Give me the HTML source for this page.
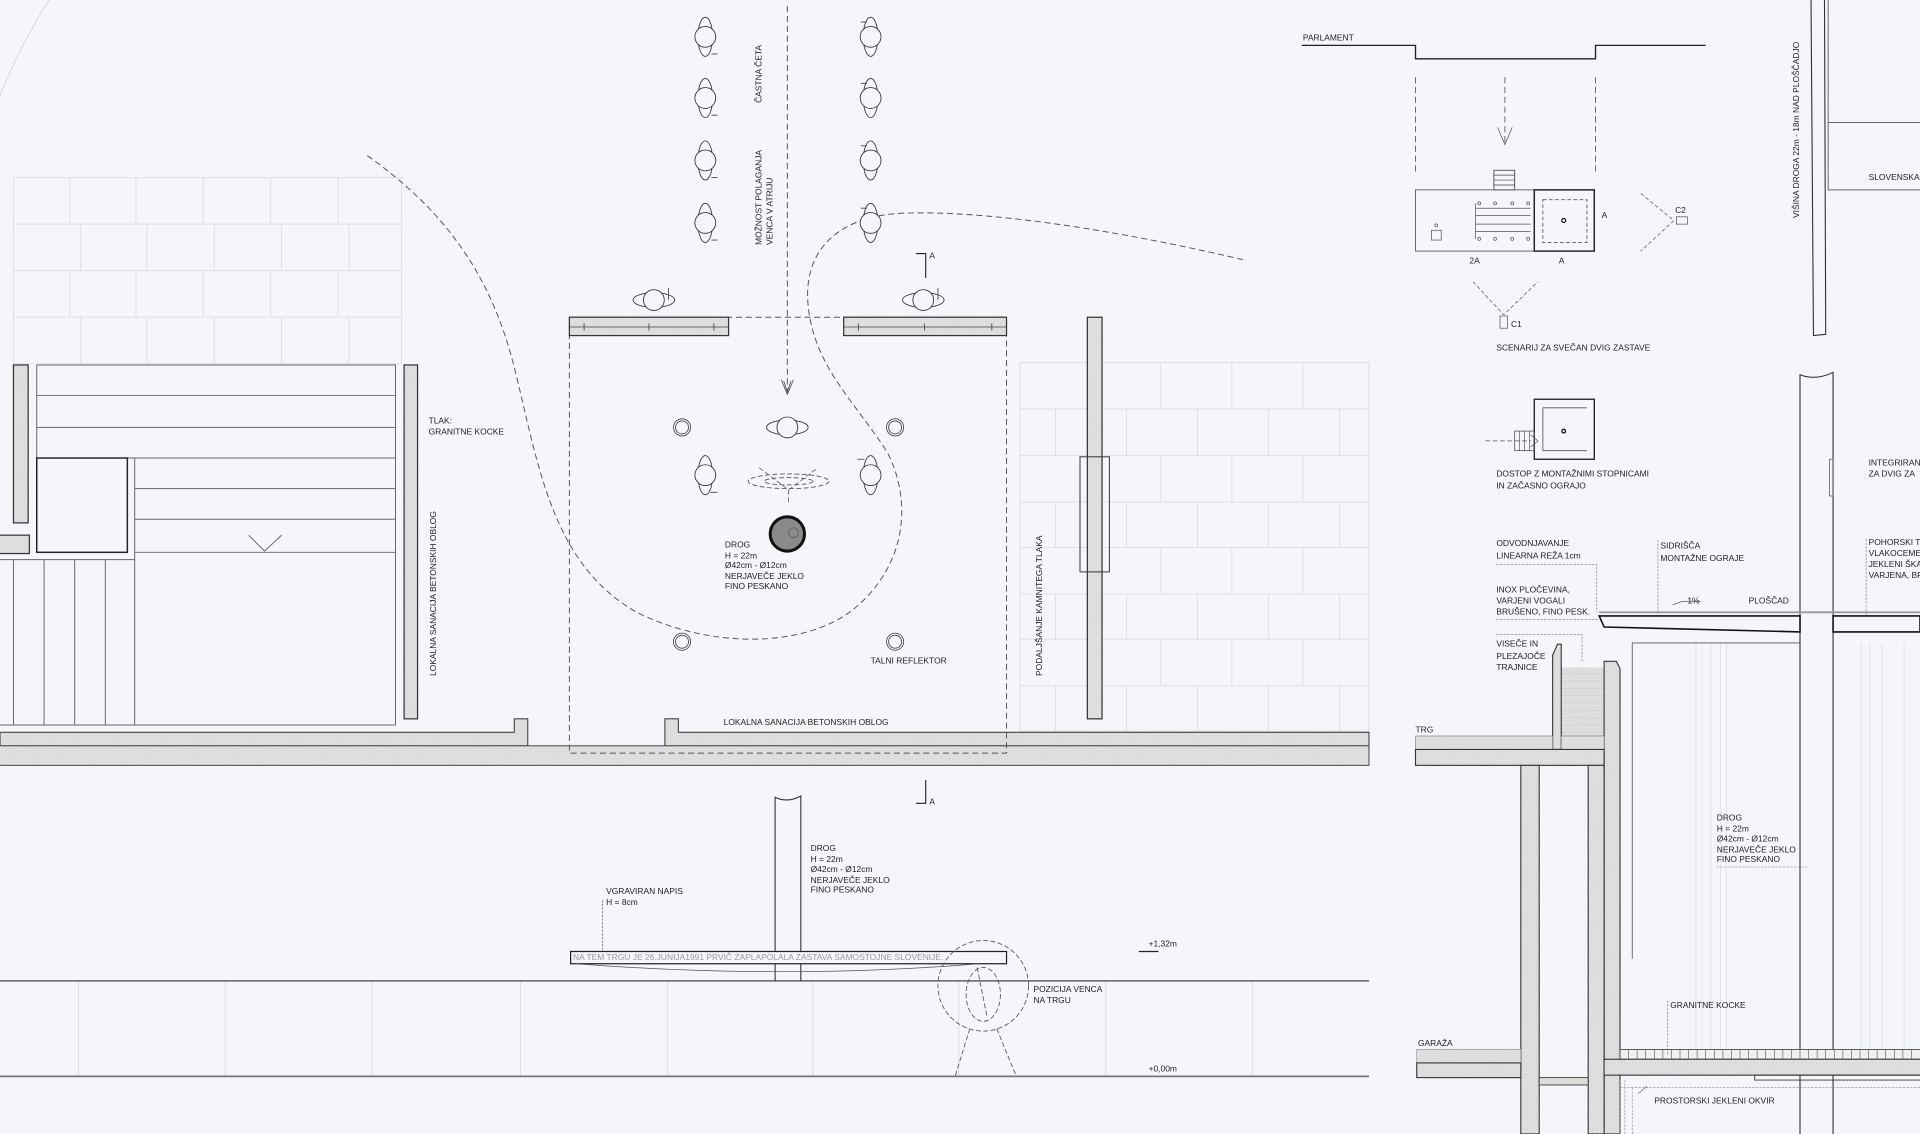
<!DOCTYPE html>
<html><head><meta charset="utf-8">
<style>
html,body{margin:0;padding:0;background:#f4f6fa;}
svg{display:block}
text{font-family:"Liberation Sans",sans-serif;font-size:6.9px;fill:#222}
</style></head>
<body>
<svg width="1920" height="1134" viewBox="0 0 1568 926" xmlns="http://www.w3.org/2000/svg">
<defs>
<pattern id="h" width="3" height="3" patternUnits="userSpaceOnUse"><rect width="3" height="3" fill="#e3e3e3"/><path d="M0 3L3 0" stroke="#cfcfcf" stroke-width="0.6"/></pattern>
<g id="sv"><ellipse cx="0" cy="0" rx="6" ry="16" fill="none" stroke="#333" stroke-width="0.7"/><circle cx="0" cy="0" r="8.5" fill="#f4f6fa" stroke="#333" stroke-width="0.7"/></g>
<g id="sh"><ellipse cx="0" cy="0" rx="17" ry="6" fill="none" stroke="#333" stroke-width="0.7"/><circle cx="0" cy="0" r="8.5" fill="#f4f6fa" stroke="#333" stroke-width="0.7"/></g>
<g id="rf"><circle r="7" fill="none" stroke="#444" stroke-width="0.7"/><circle r="5.3" fill="none" stroke="#444" stroke-width="0.7"/></g>
</defs>
<rect width="1568" height="926" fill="#f4f6fa"/>

<g stroke="#dcdfe4" stroke-width="0.8" fill="none">
<rect x="11" y="145" width="317" height="152"/>
<line x1="11" y1="183" x2="328" y2="183"/><line x1="11" y1="221" x2="328" y2="221"/><line x1="11" y1="259" x2="328" y2="259"/>
<path d="M57 145V183M111 145V183M166 145V183M221 145V183M276 145V183
M66 183V221M120 183V221M175 183V221M230 183V221M285 183V221
M57 221V259M111 221V259M166 221V259M221 221V259M276 221V259
M66 259V297M120 259V297M175 259V297M230 259V297M285 259V297"/>
</g>
<g stroke="#dcdfe4" stroke-width="0.8" fill="none">
<rect x="833" y="296" width="285" height="301"/>
<path d="M833 334H1118M833 372H1118M833 410H1118M833 447H1118M833 485H1118M833 522H1118M833 560H1118"/>
<path d="M890 296V334M948 296V334M1006 296V334M1064 296V334
M862 334V372M920 334V372M978 334V372M1036 334V372M1094 334V372
M890 372V410M948 372V410M1006 372V410M1064 372V410
M862 410V447M920 410V447M978 410V447M1036 410V447M1094 410V447
M890 447V485M948 447V485M1006 447V485M1064 447V485
M862 485V522M920 485V522M978 485V522M1036 485V522M1094 485V522
M890 522V560M948 522V560M1006 522V560M1064 522V560
M862 560V597M920 560V597M978 560V597M1036 560V597M1094 560V597"/>
</g>

<g stroke="#666" stroke-width="0.8" fill="none">
<path d="M30 298H323V592H0"/>
<path d="M30 298V374M30 323H323M30 349H323M30 374H323M110 399H323M110 424H323M110 451H323M0 457H110M110 374V592"/>
<path d="M11 457V592M36 457V592M61 457V592M86 457V592"/>
<path d="M203 437L216 450L230 437"/>
</g>
<rect x="11" y="298" width="12" height="129" fill="url(#h)" stroke="#333" stroke-width="1"/>
<rect x="-2" y="437" width="26" height="15" fill="url(#h)" stroke="#333" stroke-width="1"/>
<rect x="30" y="374" width="74" height="77" fill="none" stroke="#222" stroke-width="1.2"/>
<rect x="330" y="298" width="11" height="289" fill="url(#h)" stroke="#333" stroke-width="1"/>
<text x="350" y="346">TLAK:</text><text x="350" y="355">GRANITNE KOCKE</text>
<text transform="translate(356,552) rotate(-90)">LOKALNA SANACIJA BETONSKIH OBLOG</text>

<path d="M0 598H420V587H431V598H431V609H0Z" fill="url(#h)" stroke="#444" stroke-width="0.9"/>
<path d="M543 609V587H554V598H1118V609Z" fill="url(#h)" stroke="#444" stroke-width="0.9"/>
<rect x="-2" y="609" width="1120" height="16" fill="url(#h)" stroke="#555" stroke-width="0.9"/>

<rect x="465" y="259" width="357" height="356" fill="none" stroke="#555" stroke-width="0.8" stroke-dasharray="5,3"/>
<rect x="465" y="259" width="130" height="15" fill="url(#h)" stroke="#333" stroke-width="1"/>
<rect x="689" y="259" width="133" height="15" fill="url(#h)" stroke="#333" stroke-width="1"/>
<g stroke="#444" stroke-width="0.7"><path d="M465 267H595M689 267H822M477 264V270M530 264V270M583 264V270M701 264V270M755 264V270M810 264V270"/></g>
<rect x="888" y="259" width="12" height="328" fill="url(#h)" stroke="#333" stroke-width="1"/>
<rect x="882" y="373" width="24" height="94" fill="none" stroke="#333" stroke-width="0.8"/>
<text transform="translate(851,552) rotate(-90)">PODALJŠANJE KAMNITEGA TLAKA</text>

<line x1="643" y1="5" x2="643" y2="320" stroke="#555" stroke-width="0.8" stroke-dasharray="5,3"/>
<path d="M638 310L643 322L648 310M640 311L643 320L646 311" fill="none" stroke="#555" stroke-width="0.7"/>

<path d="M300 127C360 170 400 220 420 300C440 380 450 460 520 500C580 530 660 530 700 495C740 460 745 410 725 370C700 330 665 300 660 250C655 200 690 175 740 174C800 172 900 185 1015 212" fill="none" stroke="#555" stroke-width="0.8" stroke-dasharray="5,3"/>
<path d="M0 78 Q15 40 40 0" fill="none" stroke="#ccc" stroke-width="0.6"/>

<use href="#sv" x="576" y="30"/><use href="#sv" x="576" y="80"/><use href="#sv" x="576" y="131"/><use href="#sv" x="576" y="182"/>
<use href="#sv" x="711" y="30"/><use href="#sv" x="711" y="80"/><use href="#sv" x="711" y="131"/><use href="#sv" x="711" y="182"/>
<use href="#sh" x="534" y="245"/><use href="#sh" x="754" y="245"/>
<use href="#sh" x="643" y="349"/>
<use href="#sv" x="576" y="388"/><use href="#sv" x="711" y="388"/>
<g stroke="#444" stroke-width="0.7"><path d="M546 235V245M766 235V245M581 44H586M581 94H586M581 145H586M581 196H586M703 18H708M703 68H708M703 119H708M703 170H708M580 402H586M700 375H706"/></g>
<use href="#rf" x="557" y="349"/><use href="#rf" x="731" y="349"/><use href="#rf" x="557" y="524"/><use href="#rf" x="731" y="524"/>
<ellipse cx="644" cy="393" rx="33" ry="6" fill="none" stroke="#555" stroke-width="0.7" stroke-dasharray="4,2"/>
<ellipse cx="644" cy="393" rx="20" ry="3" fill="none" stroke="#555" stroke-width="0.7" stroke-dasharray="4,2"/>
<path d="M620 382L644 400L668 382M644 400V412" fill="none" stroke="#555" stroke-width="0.6" stroke-dasharray="4,2"/>
<circle cx="643" cy="436" r="14" fill="#8a8a8a" stroke="#111" stroke-width="2.5"/>
<circle cx="648" cy="435" r="4" fill="none" stroke="#555" stroke-width="0.6"/>
<text x="592" y="447">DROG</text><text x="592" y="456">H = 22m</text><text x="592" y="464">Ø42cm - Ø12cm</text><text x="592" y="473">NERJAVEČE JEKLO</text><text x="592" y="481">FINO PESKANO</text>
<text x="711" y="542">TALNI REFLEKTOR</text>
<text x="591" y="592">LOKALNA SANACIJA BETONSKIH OBLOG</text>
<text transform="translate(622,84) rotate(-90)">ČASTNA ČETA</text>
<text transform="translate(622,200) rotate(-90)">MOŽNOST POLAGANJA</text>
<text transform="translate(631,200) rotate(-90)">VENCA V ATRIJU</text>
<path d="M748 207H756V227M748 656H756V637" fill="none" stroke="#222" stroke-width="0.9"/>
<text x="759" y="211" font-size="6">A</text><text x="759" y="657" font-size="6">A</text>

<g stroke="#ddd" stroke-width="0.8"><path d="M64 801V879M184 801V879M304 801V879M425 801V879M545 801V879M664 801V879M783 801V879M903 801V879M1023 801V879"/></g>
<line x1="0" y1="801" x2="1118" y2="801" stroke="#777" stroke-width="1.4"/>
<line x1="0" y1="879" x2="1118" y2="879" stroke="#777" stroke-width="1.4"/>
<path d="M633 801V651Q643 656 654 650V801" fill="none" stroke="#333" stroke-width="0.9"/>
<rect x="466" y="777" width="356" height="10" fill="#f4f6fa" stroke="#222" stroke-width="1"/>
<path d="M470 787Q640 800 800 787" fill="none" stroke="#555" stroke-width="0.6"/>
<text x="468" y="784" font-size="6" style="fill:#999">NA TEM TRGU JE 26.JUNIJA1991 PRVIČ ZAPLAPOLALA ZASTAVA SAMOSTOJNE SLOVENIJE.</text>
<line x1="492" y1="735" x2="492" y2="777" stroke="#666" stroke-width="0.6" stroke-dasharray="2,1"/>
<text x="495" y="730">VGRAVIRAN NAPIS</text><text x="495" y="739">H = 8cm</text>
<text x="662" y="695">DROG</text><text x="662" y="704">H = 22m</text><text x="662" y="712">Ø42cm - Ø12cm</text><text x="662" y="721">NERJAVEČE JEKLO</text><text x="662" y="729">FINO PESKANO</text>
<g fill="none" stroke="#555" stroke-width="0.7" stroke-dasharray="4,2">
<circle cx="803" cy="805" r="37"/>
<ellipse cx="803" cy="812" rx="14" ry="22"/>
<path d="M792 840L780 879M814 840L830 879M798 790L806 830"/>
</g>
<text x="844" y="810">POZICIJA VENCA</text><text x="844" y="819">NA TRGU</text>
<text x="938" y="773" font-size="6.6">+1,32m</text><line x1="930" y1="777" x2="946" y2="777" stroke="#222" stroke-width="1"/>
<text x="938" y="875" font-size="6.6">+0,00m</text>

<text x="1064" y="33">PARLAMENT</text>
<path d="M1063 37H1156V48H1303V37H1393" fill="none" stroke="#222" stroke-width="1.1"/>
<g stroke="#555" stroke-width="0.7" stroke-dasharray="5,3"><path d="M1156 63V140M1303 63V140M1229 63V118"/></g>
<path d="M1223 104L1229 118L1235 104" fill="none" stroke="#555" stroke-width="0.6"/>
<rect x="1220" y="139" width="17" height="16" fill="none" stroke="#444" stroke-width="0.7"/>
<path d="M1220 143H1237M1220 147H1237M1220 151H1237" stroke="#444" stroke-width="0.6"/>
<rect x="1156" y="155" width="97" height="50" fill="none" stroke="#555" stroke-width="0.7"/>
<rect x="1253" y="155" width="49" height="50" fill="none" stroke="#222" stroke-width="1.2"/>
<rect x="1260" y="163" width="36" height="35" fill="none" stroke="#555" stroke-width="0.7" stroke-dasharray="3,2"/>
<circle cx="1277" cy="180" r="1.6" fill="none" stroke="#111" stroke-width="1"/>
<g fill="none" stroke="#555" stroke-width="0.6"><path d="M1205 170H1250M1205 176H1250M1205 183H1250M1205 189H1250M1205 166V195"/>
<circle cx="1208" cy="166" r="1.2"/><circle cx="1221" cy="166" r="1.2"/><circle cx="1235" cy="166" r="1.2"/><circle cx="1248" cy="166" r="1.2"/>
<circle cx="1208" cy="195" r="1.2"/><circle cx="1221" cy="195" r="1.2"/><circle cx="1235" cy="195" r="1.2"/><circle cx="1248" cy="195" r="1.2"/>
<rect x="1169" y="188" width="8" height="8"/><circle cx="1173" cy="184" r="1.2"/></g>
<text x="1200" y="215" font-size="6.6">2A</text><text x="1273" y="215" font-size="6.6">A</text><text x="1308" y="178" font-size="6.6">A</text>
<g fill="none" stroke="#555" stroke-width="0.6"><path d="M1340 158L1367 180L1340 205" stroke-dasharray="3,2"/><rect x="1369" y="177" width="9" height="6"/>
<path d="M1203 230L1228 257L1256 230" stroke-dasharray="3,2"/><rect x="1225" y="258" width="6" height="10"/></g>
<text x="1368" y="174" font-size="6.6">C2</text><text x="1234" y="267" font-size="6.6">C1</text>
<text x="1222" y="286">SCENARIJ ZA SVEČAN DVIG ZASTAVE</text>
<rect x="1253" y="326" width="49" height="49" fill="none" stroke="#222" stroke-width="1.1"/>
<path d="M1296 333H1260V368H1296" fill="none" stroke="#555" stroke-width="0.7"/>
<circle cx="1277" cy="352" r="1.5" fill="none" stroke="#111" stroke-width="1"/>
<rect x="1237" y="352" width="16" height="16" fill="none" stroke="#444" stroke-width="0.6"/>
<path d="M1241 352V368M1245 352V368M1249 352V368" stroke="#444" stroke-width="0.5"/>
<path d="M1213 360H1250" stroke="#555" stroke-width="0.7" stroke-dasharray="4,2"/>
<path d="M1250 355L1256 360L1250 365" fill="none" stroke="#555" stroke-width="0.6"/>
<text x="1222" y="389">DOSTOP Z MONTAŽNIMI STOPNICAMI</text><text x="1222" y="399">IN ZAČASNO OGRAJO</text>

<path d="M1479 0L1481 274L1491 273L1490 0" fill="none" stroke="#333" stroke-width="0.9"/>
<path d="M1493 0V155H1568M1493 100H1568" fill="none" stroke="#666" stroke-width="0.8"/>
<text x="1526" y="147">SLOVENSKA</text>
<text transform="translate(1469,178) rotate(-90)">VIŠINA DROGA 22m - 18m NAD PLOŠČADJO</text>

<g stroke="#e0e3e8" stroke-width="0.8"><path d="M1385 525V857M1390 525V857M1397 525V857M1405 525V857M1410 525V857M1520 525V857M1527 525V857M1537 525V857M1555 525V857"/></g>
<path d="M1333 783V525H1470" fill="none" stroke="#555" stroke-width="0.7"/>
<path d="M1470 926V306Q1483 311 1497 304V926" fill="none" stroke="#333" stroke-width="0.9"/>
<rect x="1494" y="375" width="3" height="30" fill="none" stroke="#555" stroke-width="0.6"/>
<text x="1526" y="380">INTEGRIRAN</text><text x="1526" y="389">ZA DVIG ZA</text>
<text x="1526" y="445">POHORSKI T</text><text x="1526" y="454">VLAKOCEME</text><text x="1526" y="463">JEKLENI ŠKA</text><text x="1526" y="472">VARJENA, BR</text>
<path d="M1524 440V510" stroke="#777" stroke-width="0.5" stroke-dasharray="2,1"/>
<path d="M1306 500H1568" stroke="#999" stroke-width="1.5"/>
<path d="M1306 503H1470V516L1310 512Z" fill="#f4f6fa" stroke="#111" stroke-width="1.3"/>
<path d="M1497 503H1568V516L1497 516Z" fill="#f4f6fa" stroke="#111" stroke-width="1.3"/>
<text x="1222" y="446">ODVODNJAVANJE</text><text x="1222" y="456">LINEARNA REŽA 1cm</text>
<path d="M1222 461H1304V500" fill="none" stroke="#777" stroke-width="0.5" stroke-dasharray="2,1"/>
<text x="1356" y="448">SIDRIŠČA</text><text x="1356" y="458">MONTAŽNE OGRAJE</text>
<path d="M1354 441V500" stroke="#777" stroke-width="0.5" stroke-dasharray="2,1"/>
<text x="1222" y="484">INOX PLOČEVINA,</text><text x="1222" y="493">VARJENI VOGALI</text><text x="1222" y="502">BRUŠENO, FINO PESK.</text>
<path d="M1222 506H1306" stroke="#777" stroke-width="0.5" stroke-dasharray="2,1"/>
<text x="1378" y="493" font-size="6.6">1%</text><path d="M1366 494L1374 491H1389" fill="none" stroke="#444" stroke-width="0.5"/>
<text x="1428" y="493">PLOŠČAD</text>
<text x="1222" y="528">VISEČE IN</text><text x="1222" y="538">PLEZAJOČE</text><text x="1222" y="547">TRAJNICE</text>
<path d="M1222 518H1292V540" fill="none" stroke="#777" stroke-width="0.5" stroke-dasharray="2,1"/>
<rect x="1275" y="545" width="35" height="67" fill="url(#h)"/>
<g stroke="#cfcfcf" stroke-width="0.5"><path d="M1275 550H1310M1275 556H1310M1275 562H1310M1275 568H1310M1275 574H1310M1275 580H1310M1275 586H1310M1275 592H1310M1275 598H1310"/></g>
<path d="M1268 612V535L1272 526H1275V612Z" fill="url(#h)" stroke="#333" stroke-width="0.9"/>
<path d="M1310 926V540H1320L1323 546V926Z" fill="url(#h)" stroke="#333" stroke-width="0.9"/>
<rect x="1156" y="601" width="112" height="11" fill="url(#h)" stroke="#777" stroke-width="0.5"/>
<rect x="1275" y="601" width="35" height="11" fill="url(#h)" stroke="#777" stroke-width="0.5"/>
<rect x="1156" y="612" width="154" height="13" fill="url(#h)" stroke="#333" stroke-width="0.9"/>
<text x="1156" y="598" font-size="6.8">TRG</text>
<rect x="1242" y="625" width="15" height="301" fill="url(#h)" stroke="#333" stroke-width="0.9"/>
<rect x="1297" y="625" width="13" height="301" fill="url(#h)" stroke="#333" stroke-width="0.9"/>
<rect x="1157" y="857" width="85" height="11" fill="url(#h)" stroke="#888" stroke-width="0.5"/>
<rect x="1157" y="868" width="85" height="12" fill="url(#h)" stroke="#333" stroke-width="0.9"/>
<rect x="1257" y="880" width="40" height="6" fill="url(#h)" stroke="#333" stroke-width="0.7"/>
<text x="1158" y="854" font-size="6.8">GARAŽA</text>
<rect x="1323" y="857" width="247" height="8" fill="#f0f0f0" stroke="#444" stroke-width="0.7"/>
<path d="M1330 857V865M1337 857V865M1344 857V865M1351 857V865M1358 857V865M1365 857V865M1372 857V865M1379 857V865M1386 857V865M1393 857V865M1400 857V865M1407 857V865M1414 857V865M1421 857V865M1428 857V865M1435 857V865M1442 857V865M1449 857V865M1456 857V865M1463 857V865M1470 857V865M1477 857V865M1484 857V865M1491 857V865M1498 857V865M1505 857V865M1512 857V865M1519 857V865M1526 857V865M1533 857V865M1540 857V865M1547 857V865M1554 857V865M1561 857V865" stroke="#555" stroke-width="0.5"/>
<rect x="1310" y="865" width="260" height="13" fill="url(#h)" stroke="#333" stroke-width="0.9"/>
<rect x="1433" y="878" width="137" height="4" fill="none" stroke="#333" stroke-width="0.7"/>
<text x="1364" y="823">GRANITNE KOCKE</text>
<path d="M1362 817V862" stroke="#777" stroke-width="0.5" stroke-dasharray="2,1"/>
<text x="1402" y="670">DROG</text><text x="1402" y="679">H = 22m</text><text x="1402" y="687">Ø42cm - Ø12cm</text><text x="1402" y="696">NERJAVEČE JEKLO</text><text x="1402" y="704">FINO PESKANO</text>
<path d="M1402 708H1477" stroke="#777" stroke-width="0.5" stroke-dasharray="2,1"/>
<path d="M1323 888H1568M1323 882V926M1327 882V926M1333 888V926" stroke="#888" stroke-width="0.5" stroke-dasharray="2,1"/>
<path d="M1338 893L1345 887" stroke="#555" stroke-width="0.5"/>
<text x="1351" y="901">PROSTORSKI JEKLENI OKVIR</text>
</svg>
</body></html>
